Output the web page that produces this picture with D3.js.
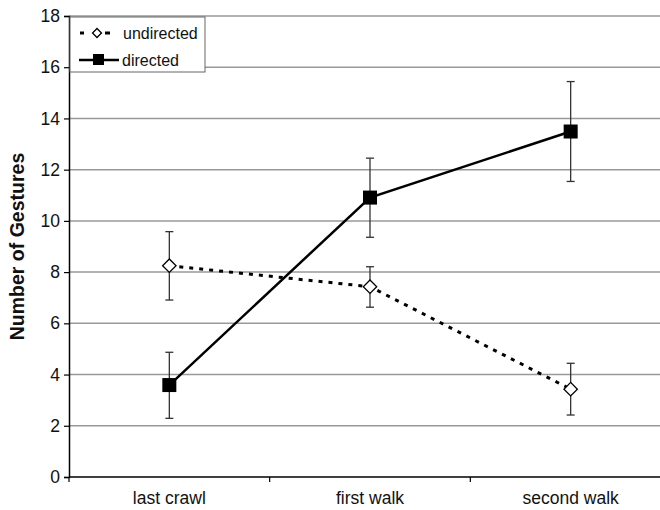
<!DOCTYPE html>
<html>
<head>
<meta charset="utf-8">
<script src="https://cdn.jsdelivr.net/npm/d3@7"></script>
<style>
  html, body { margin: 0; padding: 0; background: #fff; }
  svg { display: block; font-family: "Liberation Sans", Arial, sans-serif; }
</style>
</head>
<body>
<svg id="chart" width="660" height="510"></svg>
<script>
// Phases of motor development
const categories = ["last crawl", "first walk", "second walk"];

// Mean number of gestures and error-bar extents per phase
const undirectedMean = [8.25, 7.43, 3.43];
const undirectedLow  = [6.91, 6.63, 2.42];
const undirectedHigh = [9.58, 8.21, 4.44];

const directedMean = [3.59, 10.91, 13.49];
const directedLow  = [2.29, 9.36, 11.54];
const directedHigh = [4.87, 12.45, 15.44];

const yTicks = [0, 2, 4, 6, 8, 10, 12, 14, 16, 18];
const seriesNames = ["undirected", "directed"];

const svg = d3.select("#chart");
const plotLeft = 69, plotRight = 671, plotTop = 16, plotBottom = 477;
const tickFont = 17.5;

const x = d3.scaleBand().domain(categories).range([plotLeft, plotRight]);
const y = d3.scaleLinear().domain([0, 18]).range([plotBottom, plotTop]);
const cx = c => x(c) + x.bandwidth() / 2;

// horizontal gridlines
svg.append("g").selectAll("line")
  .data(yTicks.filter(t => t > 0))
  .join("line")
  .attr("x1", plotLeft).attr("x2", 660)
  .attr("y1", d => y(d)).attr("y2", d => y(d))
  .attr("stroke", "#999").attr("stroke-width", 1.5);

// y axis
const yAxis = svg.append("g")
  .attr("transform", `translate(${plotLeft},0)`)
  .call(d3.axisLeft(y).tickValues(yTicks).tickSize(5).tickPadding(4));
yAxis.attr("font-size", tickFont).attr("font-family", "\"Liberation Sans\", Arial, sans-serif");
yAxis.select(".domain").attr("stroke", "#000").attr("stroke-width", 1.5);
yAxis.selectAll(".tick line").attr("stroke", "#000").attr("stroke-width", 1.2);
yAxis.selectAll("text").attr("fill", "#111");

// x axis with ticks at band boundaries
const xAxis = svg.append("g").attr("transform", `translate(0,${plotBottom})`);
xAxis.append("line").attr("x1", plotLeft).attr("x2", 660)
  .attr("y1", 0).attr("y2", 0).attr("stroke", "#000").attr("stroke-width", 1.5);
xAxis.selectAll(".btick")
  .data(categories)
  .join("line").attr("class", "btick")
  .attr("x1", d => x(d)).attr("x2", d => x(d))
  .attr("y1", 0).attr("y2", 5).attr("stroke", "#000").attr("stroke-width", 1.2);
xAxis.selectAll(".blabel")
  .data(categories)
  .join("text").attr("class", "blabel")
  .attr("x", d => cx(d)).attr("y", 27)
  .attr("text-anchor", "middle")
  .attr("font-size", tickFont).attr("fill", "#111")
  .text(d => d);

// y axis title
svg.append("text")
  .attr("transform", `translate(24,${(plotTop + plotBottom) / 2}) rotate(-90)`)
  .attr("text-anchor", "middle")
  .attr("font-size", 19.5).attr("font-weight", "bold").attr("fill", "#111")
  .text("Number of Gestures");

// error bars
function errorBars(low, high) {
  const g = svg.append("g").attr("stroke", "#333").attr("stroke-width", 1.3);
  categories.forEach((c, i) => {
    const px = cx(c);
    g.append("line").attr("x1", px).attr("x2", px)
      .attr("y1", y(low[i])).attr("y2", y(high[i]));
    g.append("line").attr("x1", px - 4).attr("x2", px + 4)
      .attr("y1", y(low[i])).attr("y2", y(low[i]));
    g.append("line").attr("x1", px - 4).attr("x2", px + 4)
      .attr("y1", y(high[i])).attr("y2", y(high[i]));
  });
}
errorBars(undirectedLow, undirectedHigh);
errorBars(directedLow, directedHigh);

const line = d3.line().x((d, i) => cx(categories[i])).y(d => y(d));

// undirected: dashed line with open diamonds
svg.append("path").datum(undirectedMean)
  .attr("d", line).attr("fill", "none")
  .attr("stroke", "#000").attr("stroke-width", 3)
  .attr("stroke-dasharray", "4,6");

// directed: solid line with filled squares
svg.append("path").datum(directedMean)
  .attr("d", line).attr("fill", "none")
  .attr("stroke", "#000").attr("stroke-width", 2.5);

const diamond = d3.symbol().type(d3.symbolSquare).size(90);
svg.append("g").selectAll("path")
  .data(undirectedMean)
  .join("path")
  .attr("d", diamond())
  .attr("transform", (d, i) => `translate(${cx(categories[i])},${y(d)}) rotate(45)`)
  .attr("fill", "#fff").attr("stroke", "#000").attr("stroke-width", 1.3);

svg.append("g").selectAll("rect")
  .data(directedMean)
  .join("rect")
  .attr("x", (d, i) => cx(categories[i]) - 7)
  .attr("y", d => y(d) - 7)
  .attr("width", 14).attr("height", 14)
  .attr("fill", "#000");

// legend
const lg = svg.append("g");
lg.append("rect").attr("x", 70).attr("y", 17).attr("width", 135).attr("height", 55)
  .attr("fill", "#fff").attr("stroke", "#666").attr("stroke-width", 1);
// undirected entry
lg.append("line").attr("x1", 80).attr("x2", 84).attr("y1", 33).attr("y2", 33)
  .attr("stroke", "#000").attr("stroke-width", 3);
lg.append("line").attr("x1", 105).attr("x2", 110).attr("y1", 33).attr("y2", 33)
  .attr("stroke", "#000").attr("stroke-width", 3);
lg.append("path").attr("d", d3.symbol().type(d3.symbolSquare).size(40)())
  .attr("transform", "translate(97,33) rotate(45)")
  .attr("fill", "#fff").attr("stroke", "#000").attr("stroke-width", 1.3);
lg.append("text").attr("x", 123).attr("y", 39).attr("font-size", 16).attr("fill", "#111")
  .text(seriesNames[0]);
// directed entry
lg.append("line").attr("x1", 79).attr("x2", 119).attr("y1", 60).attr("y2", 60)
  .attr("stroke", "#000").attr("stroke-width", 2.5);
lg.append("rect").attr("x", 93).attr("y", 54).attr("width", 11).attr("height", 11)
  .attr("fill", "#000");
lg.append("text").attr("x", 122).attr("y", 66).attr("font-size", 16).attr("fill", "#111")
  .text(seriesNames[1]);
</script>
</body>
</html>
